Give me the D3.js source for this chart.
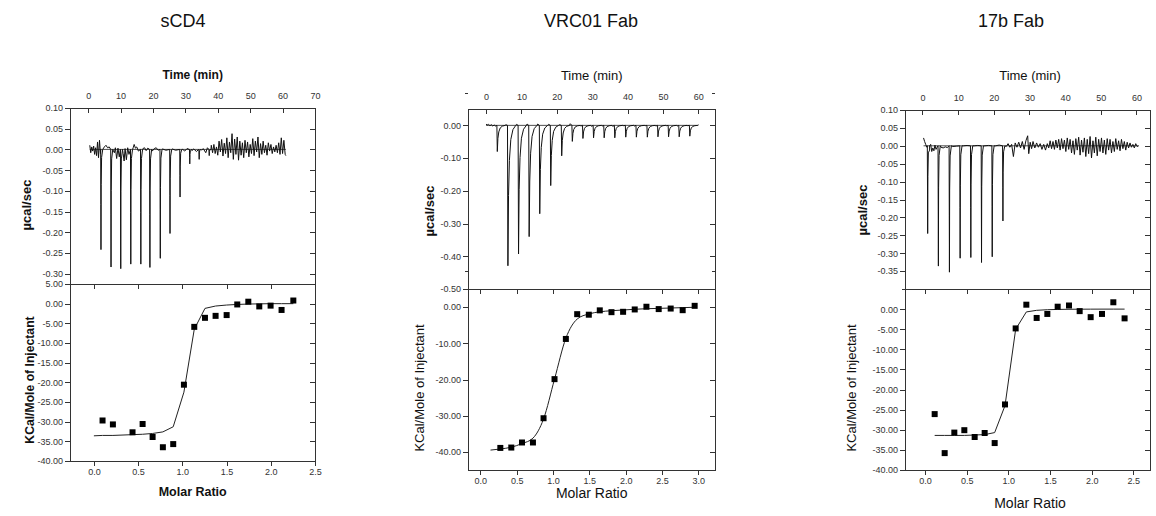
<!DOCTYPE html>
<html>
<head>
<meta charset="utf-8">
<script src="https://cdn.jsdelivr.net/npm/d3@7"></script>
<style>
body { margin: 0; background: #fff; }
svg { font-family: Arial, "Liberation Sans", sans-serif; }
.tick text { fill: #333; font-size: 9px; }
.tick line { stroke: #333; }
</style>
</head>
<body>
<svg id="chart" width="1156" height="516"></svg>
<script>
var titles = ["sCD4", "VRC01 Fab", "17b Fab"];

// injection peaks: [time (min), µcal/sec at the tip]
var inj_scd4 = [[3.9,-0.242],[7.0,-0.284],[10.0,-0.288],[13.1,-0.277],[16.2,-0.277],[19.0,-0.285],
  [22.2,-0.263],[25.2,-0.203],[28.3,-0.115],[31.3,-0.035],[34.2,-0.024],[37.3,-0.015]];
var inj_vrc01 = [[3.1,-0.080],[6.1,-0.429],[9.1,-0.393],[12.1,-0.340],[15.1,-0.270],[18.2,-0.184],
  [21.3,-0.093],[24.3,-0.049],[27.3,-0.040],[30.3,-0.038],[33.3,-0.038],[36.3,-0.038],[39.4,-0.036],
  [42.4,-0.036],[45.5,-0.036],[48.5,-0.035],[51.5,-0.035],[54.5,-0.035],[57.5,-0.033]];
var inj_17b = [[1.4,-0.245],[4.4,-0.336],[7.5,-0.353],[10.5,-0.314],[13.5,-0.312],[16.5,-0.326],
  [19.5,-0.310],[22.5,-0.210]];

// baseline trace between injections: [time, µcal/sec]
var noise_scd4 = [[0.5,0.010],[0.8,-0.008],[1.1,0.006],[1.4,-0.004],[1.7,0.008],[2.0,-0.012],[2.3,0.004],
  [2.6,-0.015],[2.9,0.018],[3.2,-0.020],[3.5,0.022],[3.8,-0.010],[5.0,0.006],[5.5,0.010],[6.0,0.004],
  [6.5,0.006],[7.8,-0.004],[8.1,-0.008],[8.4,0.004],[8.8,-0.022],[9.2,0.003],[9.6,-0.018],[10.8,-0.010],
  [11.1,-0.028],[11.4,0.002],[11.8,-0.025],[12.2,0.004],[12.6,-0.012],[13.9,0.004],[14.2,0.012],[14.6,0.003],
  [15.0,0.006],[15.5,-0.004],[16.9,0.002],[17.4,0.004],[17.9,-0.003],[18.4,0.003],[19.8,-0.004],[20.4,0.002],
  [21.0,0.004],[21.6,-0.002],[23.0,0.001],[24.0,-0.002],[26.0,0.001],[27.0,-0.002],[29.2,0.000],[29.8,-0.004],
  [30.5,0.002],[32.0,-0.003],[32.6,0.001],[33.4,-0.005],[35.0,-0.002],[35.5,0.002],[36.3,-0.008],[36.8,0.004],
  [38.0,0.010],[38.4,-0.008],[38.8,0.012],[39.2,-0.010],[39.6,0.006],[40.0,-0.014],[40.4,0.020],[40.8,-0.006],
  [41.2,0.024],[41.6,-0.016],[42.0,0.015],[42.4,-0.010],[42.8,0.028],[43.2,-0.020],[43.6,0.018],[44.0,-0.008],
  [44.4,0.038],[44.8,-0.024],[45.2,0.025],[45.6,-0.012],[46.0,0.030],[46.4,-0.026],[46.8,0.020],[47.2,-0.014],
  [47.6,0.016],[48.0,-0.020],[48.4,0.022],[48.8,-0.008],[49.2,0.018],[49.6,-0.018],[50.0,0.012],[50.4,-0.010],
  [50.8,0.026],[51.2,-0.015],[51.6,0.020],[52.0,-0.006],[52.4,0.030],[52.8,-0.020],[53.2,0.014],[53.6,-0.012],
  [54.0,0.020],[54.4,-0.008],[54.8,0.010],[55.2,-0.014],[55.6,0.016],[56.0,-0.004],[56.4,0.012],[56.8,-0.010],
  [57.2,0.006],[57.6,-0.006],[58.0,0.010],[58.4,-0.008],[58.8,0.016],[59.2,-0.012],[59.6,0.028],[60.0,-0.010],
  [60.4,0.022],[60.8,-0.012],[61.0,-0.015]];
var noise_vrc01 = [[0,0.004],[0.3,0.001],[0.7,0.003],[1.1,-0.001],[1.5,0.002],[1.9,-0.002],[2.3,0.001],
  [2.7,-0.002],[5.6,0.002],[8.6,0.003],[11.6,0.004],[14.6,0.004],[17.7,0.003],[20.8,0.002],[23.8,0.005],
  [26.8,-0.002],[29.8,-0.003],[32.8,-0.002],[35.8,-0.003],[38.9,-0.001],[41.9,-0.002],[45.0,-0.001],
  [48.0,-0.002],[51.0,-0.001],[54.0,-0.002],[57.0,-0.001],[59.2,0.000],[60.0,0.002]];
var noise_17b = [[0.3,0.022],[0.6,0.012],[0.9,0.004],[1.2,-0.004],[2.0,-0.012],[2.3,0.004],[2.6,-0.016],
  [2.9,-0.006],[3.2,-0.014],[3.5,0.002],[3.8,-0.010],[4.1,-0.004],[5.2,-0.004],[5.8,-0.006],[6.4,-0.003],
  [7.0,-0.005],[8.5,-0.002],[9.5,-0.001],[11.5,0.000],[12.5,0.001],[14.5,0.000],[15.5,0.001],[17.5,0.000],
  [18.5,0.001],[20.5,0.000],[21.5,0.002],[23.5,-0.002],[24.0,0.006],[24.5,-0.004],[25.0,0.004],[25.5,-0.030],
  [26.0,0.008],[26.5,-0.004],[27.0,0.010],[27.5,-0.006],[28.0,0.012],[28.5,-0.010],[29.0,0.014],[29.5,0.028],
  [29.8,-0.022],[30.2,0.010],[30.6,-0.008],[31.0,0.012],[31.5,-0.006],[32.0,0.008],[32.5,-0.004],[33.0,0.006],
  [33.5,-0.010],[34.0,0.004],[34.5,-0.012],[35.0,0.006],[35.4,-0.006],[35.8,0.014],[36.2,-0.008],[36.6,0.012],
  [37.0,-0.010],[37.4,0.016],[37.8,-0.006],[38.2,0.018],[38.6,-0.012],[39.0,0.020],[39.4,-0.008],[39.8,0.016],
  [40.2,-0.016],[40.6,0.022],[41.0,-0.010],[41.4,0.018],[41.8,-0.020],[42.2,0.014],[42.6,-0.024],[43.0,0.020],
  [43.4,-0.012],[43.8,0.024],[44.2,-0.026],[44.6,0.016],[45.0,-0.018],[45.4,0.022],[45.8,-0.030],[46.2,0.018],
  [46.6,-0.022],[47.0,0.026],[47.4,-0.034],[47.8,0.014],[48.2,-0.020],[48.6,0.024],[49.0,-0.028],[49.4,0.018],
  [49.8,-0.016],[50.2,0.022],[50.6,-0.020],[51.0,0.016],[51.4,-0.024],[51.8,0.020],[52.2,-0.012],[52.6,0.018],
  [53.0,-0.020],[53.4,0.012],[53.8,-0.016],[54.2,0.020],[54.6,-0.010],[55.0,0.014],[55.4,-0.014],[55.8,0.018],
  [56.2,-0.008],[56.6,0.012],[57.0,-0.012],[57.4,0.010],[57.8,-0.006],[58.2,0.008],[58.6,-0.004],[59.0,0.004],
  [59.4,-0.006],[59.8,0.006],[60.2,-0.002],[60.6,0.000]];

// integrated heats: molar ratio and kcal/mole of injectant
var ratio_scd4 = [0.098,0.215,0.437,0.551,0.664,0.780,0.897,1.018,1.135,1.256,1.376,1.501,1.621,1.746,1.870,1.998,2.122,2.255];
var heat_scd4 = [-29.7,-30.7,-32.7,-30.6,-33.9,-36.5,-35.7,-20.6,-5.9,-3.6,-3.1,-2.9,-0.2,0.5,-0.7,-0.5,-1.6,0.8];
var ratio_vrc01 = [0.275,0.426,0.573,0.724,0.870,1.021,1.177,1.333,1.493,1.644,1.805,1.965,2.125,2.286,2.455,2.620,2.785,2.950];
var heat_vrc01 = [-38.9,-38.8,-37.4,-37.4,-30.7,-19.9,-8.8,-1.95,-2.1,-0.9,-1.4,-1.3,-0.65,0.1,-0.55,-0.4,-0.85,0.35];
var ratio_17b = [0.116,0.236,0.352,0.472,0.596,0.716,0.836,0.960,1.088,1.216,1.340,1.468,1.592,1.728,1.856,1.988,2.124,2.260,2.395];
var heat_17b = [-26.1,-35.8,-30.7,-30.1,-31.8,-30.8,-33.3,-23.7,-4.8,1.1,-2.2,-1.2,0.6,0.9,-0.5,-2.0,-1.2,1.7,-2.3];

// fitted curves
var fitx_scd4 = [0.0,0.098,0.215,0.437,0.551,0.664,0.780,0.897,1.018,1.135,1.256,1.376,1.501,1.621,1.746,1.870,1.998,2.122,2.255];
var fity_scd4 = [-33.6,-33.5,-33.5,-33.3,-33.2,-33.0,-32.6,-31.3,-22.5,-6.5,-1.2,-0.6,-0.35,-0.2,-0.1,-0.05,0,0,0];
var fitx_vrc01 = [0.14,0.275,0.426,0.573,0.724,0.870,1.021,1.177,1.333,1.493,1.644,1.805,1.965,2.125,2.286,2.455,2.620,2.785,2.950];
var fity_vrc01 = [-39.5,-39.2,-38.7,-37.7,-36.2,-30.9,-19.9,-8.6,-3.3,-1.9,-1.3,-1.0,-0.8,-0.6,-0.45,-0.35,-0.25,-0.15,-0.05];
var fitx_17b = [0.116,0.236,0.352,0.472,0.596,0.716,0.836,0.960,1.088,1.216,1.340,1.468,1.592,1.728,1.856,1.988,2.124,2.260,2.395];
var fity_17b = [-31.4,-31.4,-31.4,-31.4,-31.3,-31.2,-30.7,-24.0,-5.0,-0.7,-0.3,-0.15,-0.08,-0.04,-0.02,-0.01,0,0,0];

// peak shapes (time offset, fraction of tip)
var sharpSpike = [[-0.04,0],[0.02,0.55],[0.06,1],[0.12,0.35],[0.25,0.08],[0.6,0]];
var tailSpike = [[-0.04,0],[0.08,1],[0.25,0.5],[0.5,0.25],[0.9,0.1],[1.5,0.03],[2.3,0]];

var loc = d3.formatLocale({decimal: ".", thousands: ",", grouping: [3], currency: ["", ""], minus: "-"});
var f2 = loc.format(".2f"), f1 = loc.format(".1f"), f0 = loc.format("d");

function steps(a, b, s) {
  var out = [];
  for (var i = Math.round(a / s); i <= Math.round(b / s); i++) out.push(+(i * s).toFixed(4));
  return out;
}

var panels = [
  {title: titles[0], tx: 183, left: 70, right: 315, top: 108, mid: 284, bottom: 461,
   tDom: [-5.6, 70], tMaj: steps(0, 70, 10), tMin: steps(5, 65, 10),
   rDom: [-0.325, 0.10], rMaj: steps(-0.30, 0.10, 0.05), rMin: steps(-0.325, 0.075, 0.05),
   hDom: [-40, 5], hMaj: steps(-40, 5, 5), hMin: steps(-37.5, 2.5, 5),
   xDom: [-0.27, 2.5], xMaj: steps(0, 2.5, 0.5), xMin: steps(-0.25, 2.25, 0.5),
   inj: inj_scd4, noise: noise_scd4, shape: sharpSpike,
   ratio: ratio_scd4, heat: heat_scd4, fitx: fitx_scd4, fity: fity_scd4, curve: d3.curveLinear,
   bold: true, timeL: [192.7, 75], ucalL: [26.7, 205], kcalL: [29.3, 380], molarL: [192.7, 492], fs: 12},
  {title: titles[1], tx: 591, left: 468, right: 715, top: 109, mid: 289, bottom: 470,
   tDom: [-5.1, 64.7], tMaj: steps(0, 60, 10), tMin: steps(5, 55, 10),
   rDom: [-0.5, 0.05], rMaj: steps(-0.5, 0, 0.1), rMin: steps(-0.45, 0.05, 0.1),
   hDom: [-45, 5], hMaj: steps(-40, 0, 10), hMin: steps(-45, 5, 10),
   xDom: [-0.17, 3.23], xMaj: steps(0, 3, 0.5), xMin: steps(-0.25, 2.75, 0.5).concat([3.25]).filter(function(d){ return d < 3.23; }),
   inj: inj_vrc01, noise: noise_vrc01, shape: tailSpike,
   ratio: ratio_vrc01, heat: heat_vrc01, fitx: fitx_vrc01, fity: fity_vrc01, curve: d3.curveMonotoneX,
   bold: false, timeL: [591.7, 75.7], ucalL: [429.3, 211], kcalL: [419, 388], molarL: [591.7, 493.3], fs: 13},
  {title: titles[2], tx: 1011, left: 905, right: 1150, top: 110, mid: 289, bottom: 470,
   tDom: [-4.9, 63.8], tMaj: steps(0, 60, 10), tMin: steps(5, 55, 10),
   rDom: [-0.40, 0.10], rMaj: steps(-0.35, 0.10, 0.05), rMin: steps(-0.375, 0.075, 0.05),
   hDom: [-40, 5], hMaj: steps(-40, 0, 5), hMin: steps(-37.5, 2.5, 5),
   xDom: [-0.24, 2.70], xMaj: steps(0, 2.5, 0.5), xMin: steps(-0.25, 2.25, 0.5),
   inj: inj_17b, noise: noise_17b, shape: sharpSpike,
   ratio: ratio_17b, heat: heat_17b, fitx: fitx_17b, fity: fity_17b, curve: d3.curveLinear,
   bold: false, timeL: [1030, 75.7], ucalL: [862.7, 210], kcalL: [851.7, 388], molarL: [1030, 503], fs: 13}
];

var svg = d3.select("#chart");

function buildTrace(inj, noise, shape) {
  var a = shape[0][0], b = shape[shape.length - 1][0];
  var pts = noise.filter(function(n) {
    return !inj.some(function(p) { return n[0] > p[0] + a && n[0] < p[0] + b; });
  }).slice();
  inj.forEach(function(p) {
    shape.forEach(function(s) { pts.push([p[0] + s[0], p[1] * s[1]]); });
  });
  return pts.sort(function(u, v) { return u[0] - v[0]; });
}

function addAxis(g, axis, tx, ty) {
  var a = g.append("g").attr("transform", "translate(" + tx + "," + ty + ")")
    .attr("shape-rendering", "crispEdges").call(axis);
  a.select(".domain").remove();
  a.selectAll("text").attr("font-family", "Arial, 'Liberation Sans', sans-serif");
  return a;
}

function drawPanel(p) {
  var g = svg.append("g");

  g.append("text").attr("x", p.tx).attr("y", 27).attr("text-anchor", "middle")
    .attr("font-size", 18).attr("fill", "#111").text(p.title);

  var t = d3.scaleLinear().domain(p.tDom).range([p.left, p.right]);
  var r = d3.scaleLinear().domain(p.rDom).range([p.mid, p.top]);
  var x = d3.scaleLinear().domain(p.xDom).range([p.left, p.right]);
  var h = d3.scaleLinear().domain(p.hDom).range([p.bottom, p.mid]);

  // top panel: raw heat rate
  addAxis(g, d3.axisLeft(r).tickValues(p.rMaj).tickSize(5).tickPadding(2).tickFormat(f2), p.left, 0);
  addAxis(g, d3.axisLeft(r).tickValues(p.rMin).tickSize(3).tickFormat(""), p.left, 0);
  addAxis(g, d3.axisLeft(r).tickValues(p.rMaj).tickSize(5).tickFormat(""), p.right, 0);
  addAxis(g, d3.axisLeft(r).tickValues(p.rMin).tickSize(3).tickFormat(""), p.right, 0);
  addAxis(g, d3.axisTop(t).tickValues(p.tMaj).tickSize(0).tickPadding(9).tickFormat(f0), 0, p.top);
  addAxis(g, d3.axisBottom(t).tickValues(p.tMaj).tickSize(5).tickFormat(""), 0, p.top);
  addAxis(g, d3.axisBottom(t).tickValues(p.tMin).tickSize(3).tickFormat(""), 0, p.top);

  // bottom panel: integrated heats
  addAxis(g, d3.axisLeft(h).tickValues(p.hMaj).tickSize(5).tickPadding(2).tickFormat(f2), p.left, 0);
  addAxis(g, d3.axisLeft(h).tickValues(p.hMin).tickSize(3).tickFormat(""), p.left, 0);
  addAxis(g, d3.axisLeft(h).tickValues(p.hMaj).tickSize(5).tickFormat(""), p.right, 0);
  addAxis(g, d3.axisLeft(h).tickValues(p.hMin).tickSize(3).tickFormat(""), p.right, 0);
  addAxis(g, d3.axisBottom(x).tickValues(p.xMaj).tickSize(5).tickPadding(3).tickFormat(f1), 0, p.bottom);
  addAxis(g, d3.axisBottom(x).tickValues(p.xMin).tickSize(3).tickFormat(""), 0, p.bottom);
  addAxis(g, d3.axisBottom(x).tickValues(p.xMaj).tickSize(5).tickFormat(""), 0, p.mid);
  addAxis(g, d3.axisBottom(x).tickValues(p.xMin).tickSize(3).tickFormat(""), 0, p.mid);

  g.append("rect").attr("x", p.left + 0.5).attr("y", p.top + 0.5)
    .attr("width", p.right - p.left).attr("height", p.bottom - p.top)
    .attr("fill", "none").attr("stroke", "#333");
  g.append("line").attr("x1", p.left).attr("x2", p.right)
    .attr("y1", p.mid + 0.5).attr("y2", p.mid + 0.5).attr("stroke", "#333");

  // fitted baseline + thermogram
  var n0 = p.noise[0][0], n1 = p.noise[p.noise.length - 1][0];
  g.append("line").attr("x1", t(n0)).attr("x2", t(n1)).attr("y1", r(0)).attr("y2", r(0))
    .attr("stroke", "#222").attr("stroke-width", 0.8);
  var trace = buildTrace(p.inj, p.noise, p.shape);
  g.append("path").datum(trace)
    .attr("d", d3.line().x(function(d) { return t(d[0]); }).y(function(d) { return r(d[1]); }))
    .attr("fill", "none").attr("stroke", "#111").attr("stroke-width", 1);

  // fit and points
  var fit = p.fitx.map(function(v, i) { return [v, p.fity[i]]; });
  g.append("path").datum(fit)
    .attr("d", d3.line().curve(p.curve).x(function(d) { return x(d[0]); }).y(function(d) { return h(d[1]); }))
    .attr("fill", "none").attr("stroke", "#222").attr("stroke-width", 1);
  var pts = p.ratio.map(function(v, i) { return [v, p.heat[i]]; });
  g.append("g").selectAll("path").data(pts).enter().append("path")
    .attr("transform", function(d) { return "translate(" + x(d[0]) + "," + h(d[1]) + ")"; })
    .attr("d", d3.symbol().type(d3.symbolSquare).size(36)())
    .attr("fill", "#000");

  // axis titles
  var wt = p.bold ? "bold" : "normal";
  g.append("text").attr("x", p.timeL[0]).attr("y", p.timeL[1]).attr("dy", "0.35em")
    .attr("text-anchor", "middle").attr("font-size", p.fs).attr("font-weight", wt)
    .attr("fill", "#111").text("Time (min)");
  g.append("text").attr("x", p.molarL[0]).attr("y", p.molarL[1]).attr("dy", "0.35em")
    .attr("text-anchor", "middle").attr("font-size", p.bold ? 12.5 : 14).attr("font-weight", wt)
    .attr("fill", "#111").text("Molar Ratio");
  g.append("text").attr("transform", "translate(" + p.ucalL[0] + "," + p.ucalL[1] + ") rotate(-90)")
    .attr("dy", "0.35em").attr("text-anchor", "middle").attr("font-size", 13).attr("font-weight", "bold")
    .attr("fill", "#111").text("\u00b5cal/sec");
  g.append("text").attr("transform", "translate(" + p.kcalL[0] + "," + p.kcalL[1] + ") rotate(-90)")
    .attr("dy", "0.35em").attr("text-anchor", "middle").attr("font-size", p.bold ? 12.2 : 13).attr("font-weight", wt)
    .attr("fill", "#111").text("KCal/Mole of Injectant");
}

panels.forEach(drawPanel);
</script>
</body>
</html>
